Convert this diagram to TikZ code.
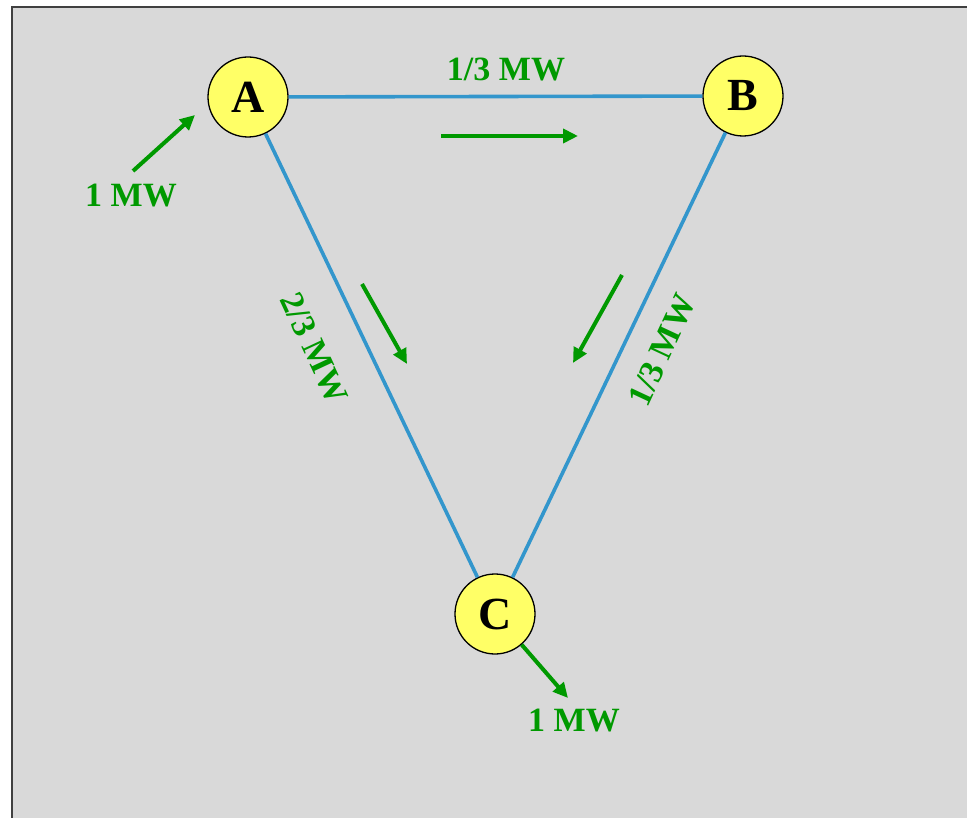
\documentclass[tikz,border=0pt]{standalone}
\usepackage{fontspec}
\setmainfont{Liberation Serif}
\usetikzlibrary{arrows.meta}
\definecolor{bg}{RGB}{217,217,217}
\definecolor{busfill}{RGB}{255,255,102}
\definecolor{linecol}{RGB}{51,150,204}
\definecolor{flow}{RGB}{0,153,0}
\tikzset{
  bus/.style={circle, draw=black, line width=1.3pt, fill=busfill, minimum size=80pt, inner sep=0pt, font=\fontsize{46}{46}\selectfont\bfseries},
  tline/.style={draw=linecol, line width=3.6pt},
  flowarrow/.style={draw=flow, line width=4pt, -{Triangle[length=15pt,width=14pt]}},
  flowlabel/.style={text=flow, font=\fontsize{34}{34}\selectfont\bfseries, inner sep=0pt}
}
\begin{document}
\begin{tikzpicture}[x=1pt,y=-1pt]
\useasboundingbox (0,0) rectangle (967,818);
\fill[bg] (12,7) rectangle (967,818);
\draw[black!75, line width=2pt] (12,830) -- (12,7) -- (980,7);
\node[bus] (A) at (248,97) {A};
\node[bus] (B) at (743,96) {B};
\node[bus] (C) at (495,614) {C};
\draw[tline] (A) -- (B);
\draw[tline] (A) -- (C);
\draw[tline] (B) -- (C);
% injection at A
\coordinate (inS) at (133,171);
\coordinate (inE) at (195,115);
\draw[flowarrow] (inS) -- (inE);
\node[flowlabel] (inL) at (131,196) {1 MW};
% A to B flow
\coordinate (abS) at (441,136);
\coordinate (abE) at (578,136);
\draw[flowarrow] (abS) -- (abE);
\node[flowlabel] (abL) at (506,70) {1/3 MW};
% A to C flow
\coordinate (acS) at (362,284);
\coordinate (acE) at (407,364);
\draw[flowarrow] (acS) -- (acE);
\node[flowlabel, rotate=-65] (acL) at (314,348) {2/3 MW};
% B to C flow
\coordinate (bcS) at (622,275);
\coordinate (bcE) at (573,363);
\draw[flowarrow] (bcS) -- (bcE);
\node[flowlabel, rotate=65] (bcL) at (662,350) {1/3 MW};
% withdrawal at C
\coordinate (outE) at (568,698);
\draw[flowarrow] (C) -- (outE);
\node[flowlabel] (outL) at (574,721) {1 MW};
\end{tikzpicture}
\end{document}
